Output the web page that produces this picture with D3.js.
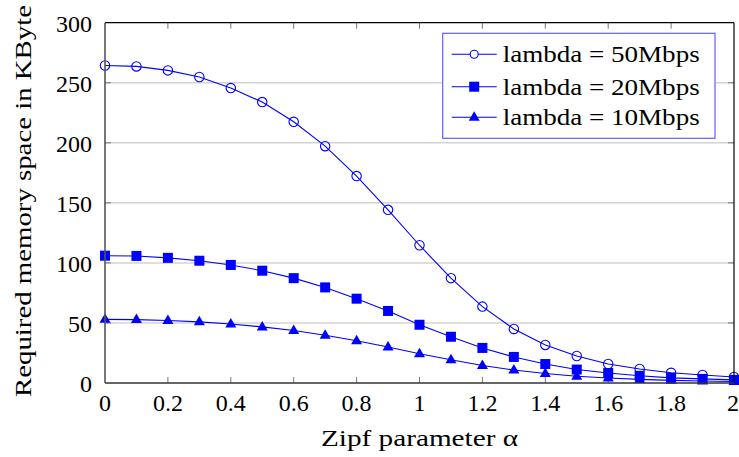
<!DOCTYPE html>
<html>
<head>
<meta charset="utf-8">
<script src="https://cdn.jsdelivr.net/npm/d3@7"></script>
</head>
<body style="margin:0">
<svg id="chart" width="739" height="457"></svg>
<script>
// Zipf parameter values (x)
const alphas = [0, 0.1, 0.2, 0.3, 0.4, 0.5, 0.6, 0.7, 0.8, 0.9, 1.0,
                1.1, 1.2, 1.3, 1.4, 1.5, 1.6, 1.7, 1.8, 1.9, 2.0];

// memory space in KByte per lambda
const mem50 = [264.4, 263.6, 260.3, 254.8, 245.6, 233.9, 217.5, 197.2, 172.3, 144.2, 114.7,
               87.3, 63.6, 45.0, 31.7, 22.5, 15.8, 11.7, 8.5, 6.7, 5.0];
const mem20 = [106.0, 105.8, 104.2, 101.8, 98.3, 93.5, 87.3, 79.6, 70.2, 60.0, 48.5,
               38.5, 29.2, 21.7, 15.8, 11.2, 8.3, 6.0, 4.3, 3.4, 2.6];
const mem10 = [53.0, 52.8, 52.1, 50.9, 49.1, 46.7, 43.7, 39.8, 35.2, 30.0, 24.3,
               19.3, 14.6, 10.8, 7.9, 5.6, 4.2, 3.0, 2.2, 1.7, 1.3];

const seriesNames = ['lambda = 50Mbps', 'lambda = 20Mbps', 'lambda = 10Mbps'];
const markers = ['circle', 'square', 'triangle'];

const xTicks = [0, 0.2, 0.4, 0.6, 0.8, 1, 1.2, 1.4, 1.6, 1.8, 2];
const yTicks = [0, 50, 100, 150, 200, 250, 300];

const blue = '#0000ff';
const serif = 'Liberation Serif';
const fs = 24;

const svg = d3.select('#chart');

const x = d3.scaleLinear().domain([0, 2]).range([105, 734]);
const y = d3.scaleLinear().domain([0, 300]).range([383, 22.7]);

// horizontal grid lines
svg.append('g')
  .selectAll('line')
  .data(yTicks.slice(1, -1))
  .enter()
  .append('line')
  .attr('x1', x(0)).attr('x2', x(2))
  .attr('y1', d => y(d)).attr('y2', d => y(d))
  .attr('stroke', '#d3d3d3')
  .attr('stroke-width', 1.5);

// inner ticks on all four sides
const tickLen = 6;
const ticks = svg.append('g').attr('stroke', '#777').attr('stroke-width', 1);
xTicks.slice(1, -1).forEach(t => {
  ticks.append('line').attr('x1', x(t)).attr('x2', x(t)).attr('y1', y(0)).attr('y2', y(0) - tickLen);
  ticks.append('line').attr('x1', x(t)).attr('x2', x(t)).attr('y1', y(300)).attr('y2', y(300) + tickLen);
});
yTicks.slice(1, -1).forEach(t => {
  ticks.append('line').attr('x1', x(0)).attr('x2', x(0) + tickLen).attr('y1', y(t)).attr('y2', y(t));
  ticks.append('line').attr('x1', x(2)).attr('x2', x(2) - tickLen).attr('y1', y(t)).attr('y2', y(t));
});

// tick labels placed with the scales
const fmt = d => String(+d.toFixed(1));
xTicks.forEach((t, i) => {
  const last = i === xTicks.length - 1;
  svg.append('text')
    .attr('x', last ? x(t) + 5 : x(t))
    .attr('y', 411)
    .attr('text-anchor', last ? 'end' : 'middle')
    .attr('font-family', serif)
    .attr('font-size', fs)
    .text(fmt(t));
});
yTicks.forEach(t => {
  svg.append('text')
    .attr('x', x(0) - 13)
    .attr('y', y(t) + 9)
    .attr('text-anchor', 'end')
    .attr('font-family', serif)
    .attr('font-size', fs)
    .text(t);
});

// series
const allSeries = [mem50, mem20, mem10];
const line = d3.line()
  .x((d, i) => x(alphas[i]))
  .y(d => y(d));

const drawMarker = (g, type, cx, cy) => {
  if (type === 'circle') {
    g.append('circle').attr('cx', cx).attr('cy', cy).attr('r', 4.7)
      .attr('fill', 'none').attr('stroke', blue).attr('stroke-width', 1.1);
  } else if (type === 'square') {
    g.append('rect').attr('x', cx - 5).attr('y', cy - 5).attr('width', 10).attr('height', 10)
      .attr('fill', blue);
  } else {
    g.append('path')
      .attr('d', `M${cx},${cy - 6} L${cx + 5.5},${cy + 3.5} L${cx - 5.5},${cy + 3.5} Z`)
      .attr('fill', blue);
  }
};

allSeries.forEach((vals, k) => {
  const g = svg.append('g');
  g.append('path')
    .datum(vals)
    .attr('d', line)
    .attr('fill', 'none')
    .attr('stroke', blue)
    .attr('stroke-width', 1.1);
  vals.forEach((v, i) => drawMarker(g, markers[k], x(alphas[i]), y(v)));
});

// axis frame
svg.append('line').attr('x1', x(0)).attr('x2', x(2)).attr('y1', y(300)).attr('y2', y(300))
  .attr('stroke', '#000').attr('stroke-width', 1.2);
svg.append('line').attr('x1', x(2)).attr('x2', x(2)).attr('y1', y(300)).attr('y2', y(0))
  .attr('stroke', '#000').attr('stroke-width', 1.2);
svg.append('line').attr('x1', x(0)).attr('x2', x(0)).attr('y1', y(300)).attr('y2', y(0))
  .attr('stroke', '#555').attr('stroke-width', 1.6);
svg.append('line').attr('x1', x(0)).attr('x2', x(2)).attr('y1', y(0)).attr('y2', y(0))
  .attr('stroke', '#333').attr('stroke-width', 1.4);

// axis titles
svg.append('text')
  .attr('x', (x(0) + x(2)) / 2)
  .attr('y', 446)
  .attr('text-anchor', 'middle')
  .attr('font-family', serif)
  .attr('font-size', fs)
  .attr('textLength', 197)
  .attr('lengthAdjust', 'spacingAndGlyphs')
  .text('Zipf parameter α');

svg.append('text')
  .attr('transform', 'translate(31,201) rotate(-90)')
  .attr('text-anchor', 'middle')
  .attr('font-family', serif)
  .attr('font-size', fs)
  .attr('textLength', 392)
  .attr('lengthAdjust', 'spacingAndGlyphs')
  .text('Required memory space in KByte');

// legend
const legend = svg.append('g');
legend.append('rect')
  .attr('x', 442.7).attr('y', 33.3)
  .attr('width', 272.3).attr('height', 105)
  .attr('fill', '#fff')
  .attr('stroke', '#5f5fff')
  .attr('stroke-width', 1.2);

const legendRows = [54.3, 86.7, 117.3];
seriesNames.forEach((name, k) => {
  const cy = legendRows[k];
  legend.append('line')
    .attr('x1', 451.7).attr('x2', 496.7).attr('y1', cy).attr('y2', cy)
    .attr('stroke', blue).attr('stroke-width', 1.1);
  const lg = legend.append('g');
  if (markers[k] === 'circle') {
    lg.append('circle').attr('cx', 474.2).attr('cy', cy).attr('r', 4)
      .attr('fill', '#fff').attr('stroke', blue).attr('stroke-width', 1.1);
  } else {
    drawMarker(lg, markers[k], 474.2, cy);
  }
  legend.append('text')
    .attr('x', 502.7)
    .attr('y', cy + 8)
    .attr('font-family', serif)
    .attr('font-size', fs)
    .attr('textLength', 197)
    .attr('lengthAdjust', 'spacingAndGlyphs')
    .text(name);
});
</script>
</body>
</html>
